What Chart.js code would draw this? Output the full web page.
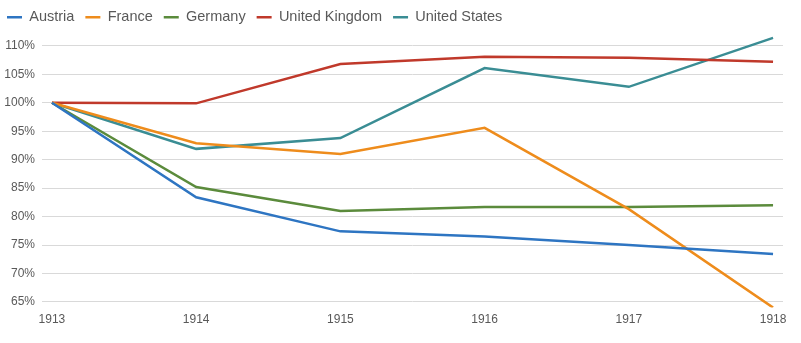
<!DOCTYPE html>
<html>
<head>
<meta charset="utf-8">
<script src="https://cdn.jsdelivr.net/npm/chart.js@4/dist/chart.umd.min.js"></script>
<style>
  html, body { margin: 0; padding: 0; background: #fff; }
  #wrap { width: 801px; height: 343px; }
</style>
</head>
<body>
<div id="wrap"><canvas id="indexChart"></canvas></div>
<script>
// GDP index, 1913 = 100%
const years = [1913, 1914, 1915, 1916, 1917, 1918];
const austria = [100, 83.4, 77.4, 76.5, 75.0, 73.4];
const france = [100, 92.9, 91.0, 95.6, 81.3, 64.0];
const germany = [100, 85.2, 81.0, 81.7, 81.7, 82.0];
const unitedKingdom = [100, 99.9, 106.8, 108.1, 107.9, 107.2];
const unitedStates = [100, 91.9, 93.8, 106.1, 102.8, 111.4];
const yTicks = [65, 70, 75, 80, 85, 90, 95, 100, 105, 110];

const seriesColors = {
  Austria: "#2e75c2",
  France: "#ee8c1c",
  Germany: "#5b8b3c",
  "United Kingdom": "#c0392b",
  "United States": "#3a8d94",
};

function toPoints(values) {
  return values.map((v, i) => ({ x: years[i], y: v }));
}

function makeDataset(label, values) {
  return {
    label: label,
    data: toPoints(values),
    borderColor: seriesColors[label],
    backgroundColor: seriesColors[label],
    borderWidth: 2.5,
    pointRadius: 0,
    tension: 0,
  };
}

const axisFont = { family: "'Liberation Sans', sans-serif", size: 12 };

new Chart(document.getElementById("indexChart"), {
  type: "line",
  data: {
    datasets: [
      makeDataset("Austria", austria),
      makeDataset("France", france),
      makeDataset("Germany", germany),
      makeDataset("United Kingdom", unitedKingdom),
      makeDataset("United States", unitedStates),
    ],
  },
  options: {
    responsive: true,
    maintainAspectRatio: false,
    animation: false,
    layout: { padding: { left: -4, right: 18, bottom: 11, top: -1 } },
    plugins: {
      tooltip: { enabled: false },
      legend: {
        position: "top",
        align: "start",
        labels: {
          usePointStyle: true,
          pointStyle: "line",
          pointStyleWidth: 15,
          padding: 11,
          color: "#595959",
          font: { family: "'Liberation Sans', sans-serif", size: 14.5 },
        },
      },
    },
    scales: {
      x: {
        type: "linear",
        min: 1912.931,
        max: 1918.069,
        afterBuildTicks: (scale) => {
          scale.ticks = years.map((y) => ({ value: y }));
        },
        grid: { display: false, drawTicks: false },
        border: { display: false },
        ticks: {
          color: "#595959",
          font: axisFont,
          padding: 5,
          maxRotation: 0,
          autoSkip: false,
          callback: (v) => String(v),
        },
      },
      y: {
        min: 64,
        max: 112,
        afterBuildTicks: (scale) => {
          scale.ticks = yTicks.map((v) => ({ value: v }));
        },
        afterFit: (scale) => {
          scale.width = 46;
        },
        grid: { color: "#d9d9d9", lineWidth: 1, drawTicks: false },
        border: { display: false },
        ticks: {
          color: "#595959",
          font: axisFont,
          padding: 7,
          callback: (v) => v + "%",
        },
      },
    },
  },
});
</script>
</body>
</html>
